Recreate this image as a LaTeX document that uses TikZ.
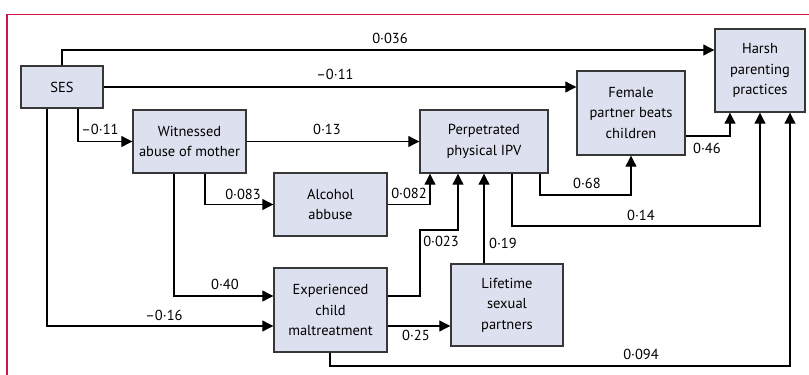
\documentclass[tikz,border=0pt]{standalone}
\usepackage{fontspec}
\setmainfont{PT Sans}
\usetikzlibrary{arrows.meta}
\definecolor{boxfill}{RGB}{221,224,238}
\definecolor{boxline}{RGB}{55,55,55}
\definecolor{framered}{RGB}{204,22,72}
\tikzset{
  box/.style={draw=boxline, line width=1.4pt, fill=boxfill, align=center,
    inner sep=0pt, font=\fontsize{14.5}{20.5}\selectfont},
  arr/.style={draw=black, line width=1.1pt, -{Triangle[length=11pt,width=11pt]}},
  lbl/.style={font=\fontsize{14.5}{16}\selectfont, inner sep=0pt}
}
\begin{document}
\begin{tikzpicture}[x=1pt,y=-1pt]
\useasboundingbox (0,0) rectangle (809,375);
% frame
\draw[framered, line width=1.3pt] (7,375) -- (7,14.5) -- (809,14.5);
% nodes
\node[box, minimum width=82pt, minimum height=42pt] (ses) at (62,87) {SES};
\node[box, minimum width=113pt, minimum height=63pt] (wit) at (189.5,141.5) {Witnessed\\abuse of mother};
\node[box, minimum width=113pt, minimum height=63pt] (alc) at (330.5,204.5) {Alcohol\\abbuse};
\node[box, minimum width=113pt, minimum height=84pt] (exp) at (330.5,310) {Experienced\\child\\maltreatment};
\node[box, minimum width=128pt, minimum height=63pt] (perp) at (484,141.5) {Perpetrated\\physical IPV};
\node[box, minimum width=112pt, minimum height=82pt] (life) at (507,305) {Lifetime\\sexual\\partners};
\node[box, minimum width=108pt, minimum height=84pt] (fem) at (631,113) {Female\\partner beats\\children};
\node[box, minimum width=90pt, minimum height=83pt] (harsh) at (760,70.5) {Harsh\\parenting\\practices};
% connectors
\draw[arr] (ses.north) -- (ses.north |- 0,50) -- (harsh.west |- 0,50);
\draw[arr] (ses.east) -- (fem.west |- ses.east);
\draw[arr] (ses.south -| 78,0) |- (wit.west);
\draw[arr] (ses.south -| 47,0) |- (exp.west |- 0,326);
\draw[arr] (wit.east) -- (perp.west);
\draw[arr] (wit.south -| 174,0) |- (exp.west |- 0,296);
\draw[arr] (wit.south -| 205,0) |- (alc.west);
\draw[arr] (alc.east) -| (perp.south -| 430,0);
\draw[arr] (exp.east |- 0,296) -- (420,296) -- (420,230) -- (458,230) -- (perp.south -| 458,0);
\draw[arr] (life.north -| 484,0) -- (perp.south -| 484,0);
\draw[arr] (perp.south -| 540,0) -- (540,195) -- (631,195) -- (fem.south);
\draw[arr] (fem.east |- 0,136) -| (harsh.south -| 730,0);
\draw[arr] (perp.south -| 512,0) -- (512,226) -- (760,226) -- (harsh.south);
\draw[arr] (exp.east |- 0,326) -- (life.west |- 0,326);
\draw[arr] (exp.south -| 330,0) -- (330,366) -- (790,366) -- (harsh.south -| 790,0);
% labels
\node[lbl] (l1) at (390,38) {0·036};
\node[lbl] (l2) at (335,74) {–0·11};
\node[lbl] (l3) at (100,129) {–0·11};
\node[lbl] (l4) at (164,315) {–0·16};
\node[lbl] (l5) at (327,129) {0·13};
\node[lbl] (l6) at (225,284) {0·40};
\node[lbl] (l7) at (243,194) {0·083};
\node[lbl] (l8) at (409,193) {0·082};
\node[lbl] (l9) at (441,241) {0·023};
\node[lbl] (l10) at (503,243) {0·19};
\node[lbl] (l11) at (587,183) {0·68};
\node[lbl] (l12) at (707,148) {0·46};
\node[lbl] (l13) at (641,215) {0·14};
\node[lbl] (l14) at (416,335) {0·25};
\node[lbl] (l15) at (641,354) {0·094};
\end{tikzpicture}
\end{document}
